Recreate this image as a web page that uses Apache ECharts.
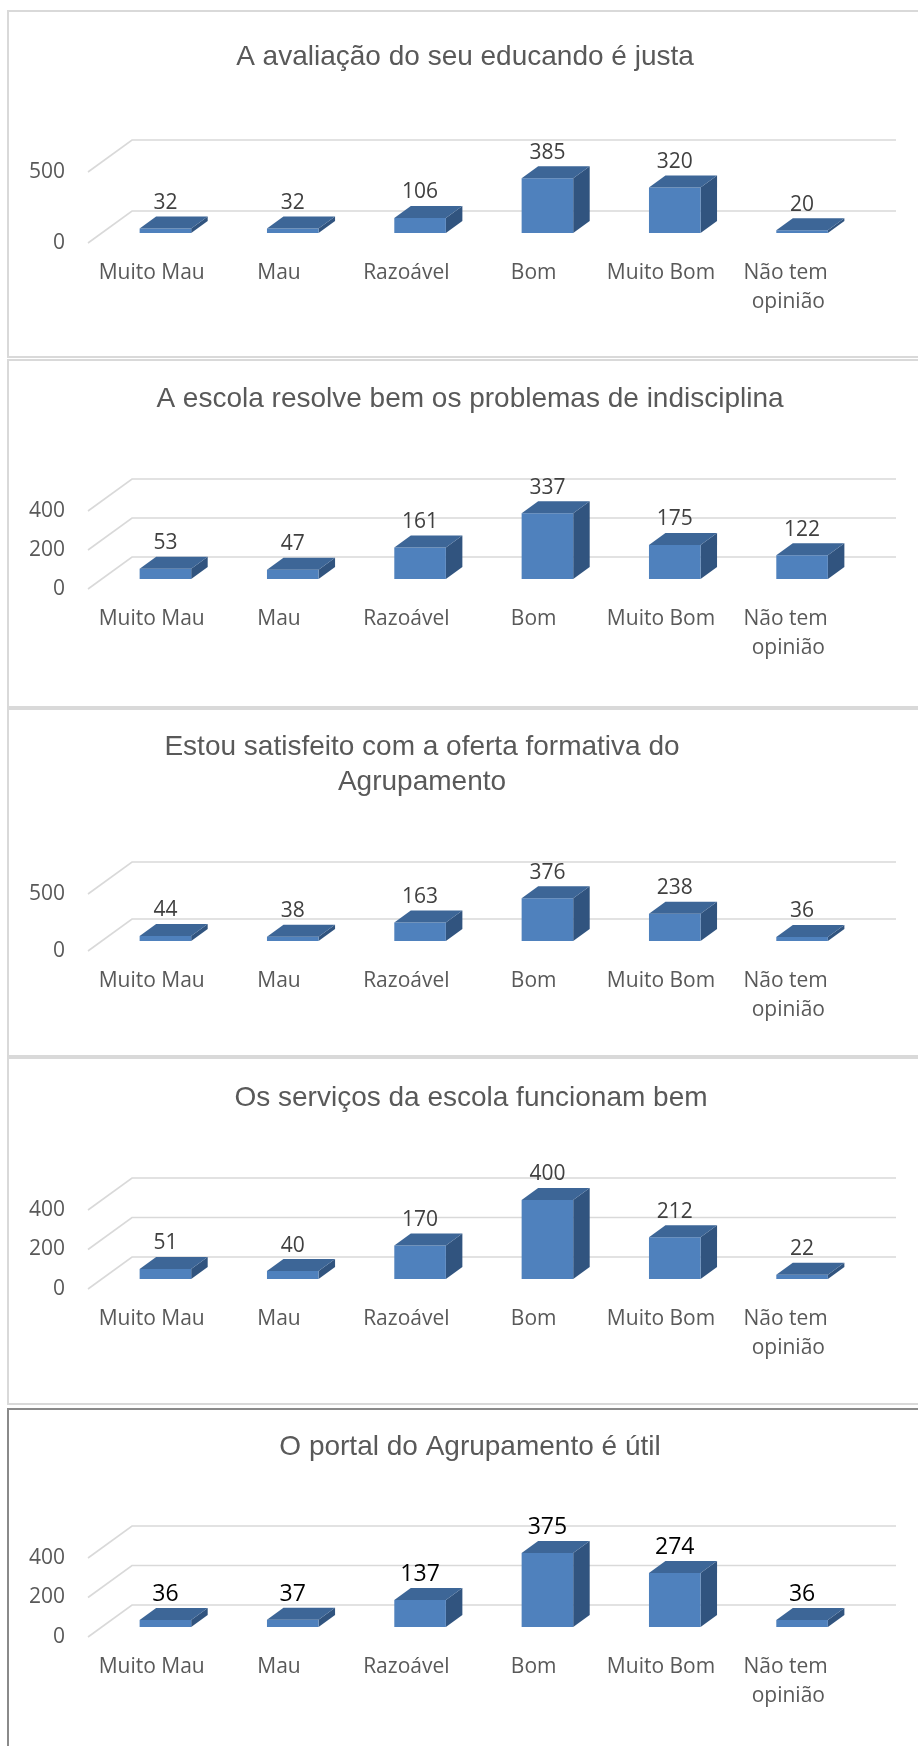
<!DOCTYPE html>
<html>
<head>
<meta charset="utf-8">
<title>Inquérito aos encarregados de educação</title>
<script src="https://cdn.jsdelivr.net/npm/echarts@6/dist/echarts.min.js"></script>
<style>
  html, body { margin: 0; padding: 0; background: #ffffff; }
  #chart { width: 918px; height: 1746px; }
</style>
</head>
<body>
<div id="chart"></div>
<script>
// Answer categories shared by every question
const categories = ['Muito Mau', 'Mau', 'Razoável', 'Bom', 'Muito Bom', 'Não tem opinião'];

// Question titles
const titleJusta = 'A avaliação do seu educando é justa';
const titleIndisciplina = 'A escola resolve bem os problemas de indisciplina';
const titleOferta = 'Estou satisfeito com a oferta formativa do\nAgrupamento';
const titleServicos = 'Os serviços da escola funcionam bem';
const titlePortal = 'O portal do Agrupamento é útil';

// Number of answers per category
const valuesJusta = [32, 32, 106, 385, 320, 20];
const valuesIndisciplina = [53, 47, 161, 337, 175, 122];
const valuesOferta = [44, 38, 163, 376, 238, 36];
const valuesServicos = [51, 40, 170, 400, 212, 22];
const valuesPortal = [36, 37, 137, 375, 274, 36];

// Value-axis ticks of each chart
const ticksJusta = [0, 500];
const ticksIndisciplina = [0, 200, 400];
const ticksOferta = [0, 500];
const ticksServicos = [0, 200, 400];
const ticksPortal = [0, 200, 400];

// ---- look & layout ----
const TEXT = '#595959';
const GRID_LINE = '#d9d9d9';
const FRONT = '#4f81bd';
const TOP = '#3d6697';
const SIDE = '#31547f';
const DEPTH_X = 44, DEPTH_Y = -32;    // floor depth in pixels
const F0 = 0.3125, F1 = 0.6875;       // bar front / back position within the depth
const BAR_FRAC = 0.405;               // bar width relative to the category band
const LABEL_FONT = '"Open Sans", "Noto Sans", sans-serif';
const TITLE_FONT = '"Liberation Sans", Arial, sans-serif';

const panels = [
  { title: titleJusta, values: valuesJusta, ticks: ticksJusta,
    box: [11, 346], titleX: 465, titleY: 57, gridTop: 172, gridH: 71, labelColor: '#404040', labelSize: 21, frame: GRID_LINE },
  { title: titleIndisciplina, values: valuesIndisciplina, ticks: ticksIndisciplina,
    box: [360, 347], titleX: 470, titleY: 399, gridTop: 511, gridH: 78, labelColor: '#404040', labelSize: 21, frame: GRID_LINE },
  { title: titleOferta, values: valuesOferta, ticks: ticksOferta,
    box: [709, 347], titleX: 422, titleY: 747, gridTop: 894, gridH: 57, labelColor: '#404040', labelSize: 21, frame: GRID_LINE },
  { title: titleServicos, values: valuesServicos, ticks: ticksServicos,
    box: [1058, 346], titleX: 471, titleY: 1098, gridTop: 1210, gridH: 79, labelColor: '#404040', labelSize: 21, frame: GRID_LINE },
  { title: titlePortal, values: valuesPortal, ticks: ticksPortal,
    box: [1409, 400], titleX: 470, titleY: 1447, gridTop: 1558, gridH: 79, labelColor: '#000000', labelSize: 23, frame: '#8a8a8a' }
];

// Back wall lines plus the receding lines on the left side wall
function renderWall(params, api) {
  const cs = params.coordSys;
  const y = api.coord([0, api.value(1)])[1];
  return {
    type: 'polyline',
    shape: { points: [[cs.x, y], [cs.x + DEPTH_X, y + DEPTH_Y], [cs.x + cs.width + DEPTH_X, y + DEPTH_Y]] },
    style: { stroke: GRID_LINE, lineWidth: 1.6, fill: null }
  };
}

// 3-D column: front face, right side, top and the value label
function makeBarRenderer(labelColor, labelSize) {
  return function (params, api) {
    const i = api.value(0);
    const v = api.value(1);
    const base = api.coord([i, 0]);
    const top = api.coord([i, v]);
    const band = api.size([1, 0])[0];
    const w = band * BAR_FRAC;
    const fx = base[0] - w / 2 + DEPTH_X * F0;
    const yb = base[1] + DEPTH_Y * F0;
    const yt = top[1] + DEPTH_Y * F0;
    const dx = DEPTH_X * (F1 - F0);
    const dy = DEPTH_Y * (F1 - F0);
    return {
      type: 'group',
      children: [
        { type: 'polygon',
          shape: { points: [[fx + w, yt], [fx + w + dx, yt + dy], [fx + w + dx, yb + dy], [fx + w, yb]] },
          style: { fill: SIDE } },
        { type: 'rect', shape: { x: fx, y: yt, width: w, height: yb - yt }, style: { fill: FRONT } },
        { type: 'polygon',
          shape: { points: [[fx, yt], [fx + dx, yt + dy], [fx + w + dx, yt + dy], [fx + w, yt]] },
          style: { fill: TOP } },
        { type: 'text',
          style: { text: String(v), x: fx + w / 2, y: yt + dy - 13.5, align: 'center', verticalAlign: 'middle',
                   fill: labelColor, fontSize: labelSize, fontFamily: LABEL_FONT } }
      ]
    };
  };
}

const option = {
  backgroundColor: '#ffffff',
  animation: false,
  title: [],
  grid: [],
  xAxis: [],
  yAxis: [],
  series: [],
  graphic: []
};

panels.forEach(function (p, k) {
  option.graphic.push({
    type: 'rect', z: -10,
    shape: { x: 8, y: p.box[0], width: 930, height: p.box[1] },
    style: { fill: '#ffffff', stroke: p.frame, lineWidth: 2 }
  });
  option.title.push({
    text: p.title,
    left: p.titleX,
    top: p.titleY - 17.5,
    textAlign: 'center',
    padding: 0,
    textStyle: { fontFamily: TITLE_FONT, fontSize: 28, fontWeight: 'normal', color: TEXT, lineHeight: 35 }
  });
  option.grid.push({ left: 88, width: 764, top: p.gridTop, height: p.gridH, containLabel: false });
  option.xAxis.push({
    type: 'category', gridIndex: k, data: categories, boundaryGap: true,
    axisLine: { show: false }, axisTick: { show: false }, splitLine: { show: false },
    axisLabel: { interval: 0, margin: 15.5, color: TEXT, fontFamily: LABEL_FONT, fontSize: 21, lineHeight: 29,
                 width: 122, overflow: 'break' }
  });
  const tmax = p.ticks[p.ticks.length - 1];
  option.yAxis.push({
    type: 'value', gridIndex: k, min: 0, max: tmax, interval: p.ticks[1] - p.ticks[0],
    axisLine: { show: false }, axisTick: { show: false }, splitLine: { show: false },
    axisLabel: { margin: 23, color: TEXT, fontFamily: LABEL_FONT, fontSize: 21 }
  });
  option.series.push({
    type: 'custom', xAxisIndex: k, yAxisIndex: k, clip: false, silent: true, z: 1,
    renderItem: renderWall,
    data: p.ticks.map(function (t) { return [0, t]; })
  });
  option.series.push({
    type: 'custom', xAxisIndex: k, yAxisIndex: k, clip: false, z: 2,
    renderItem: makeBarRenderer(p.labelColor, p.labelSize),
    data: p.values.map(function (v, i) { return [i, v]; })
  });
});

const chart = echarts.init(document.getElementById('chart'), null, { renderer: 'canvas' });
chart.setOption(option);
</script>
</body>
</html>
